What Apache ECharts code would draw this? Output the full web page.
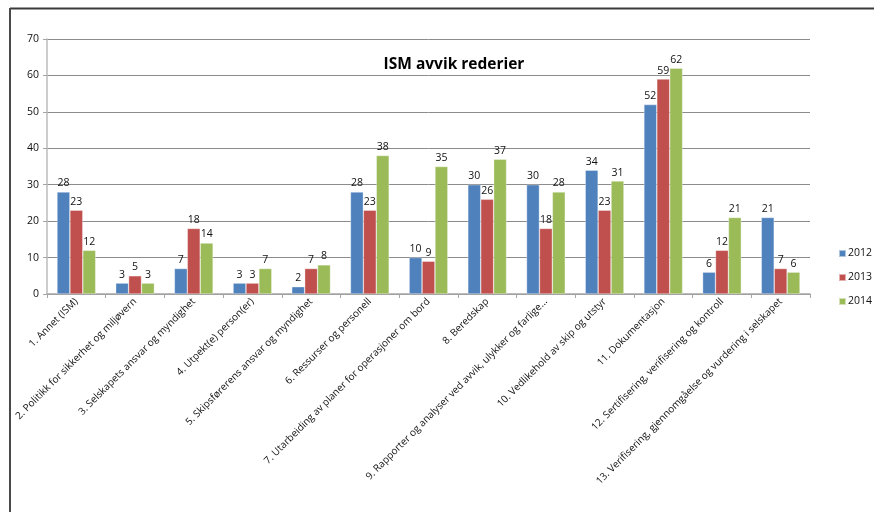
<!DOCTYPE html>
<html>
<head>
<meta charset="utf-8">
<script src="https://cdn.jsdelivr.net/npm/echarts@6/dist/echarts.min.js"></script>
<style>
  html, body { margin: 0; padding: 0; background: #fff; }
  #chart { width: 874px; height: 512px; }
</style>
</head>
<body>
<div id="chart"></div>
<script>
// Kategorier (ISM-kode kapitler)
const categories = [
  '1. Annet (ISM)',
  '2. Politikk for sikkerhet og miljøvern',
  '3. Selskapets ansvar og myndighet',
  '4. Utpekt(e) person(er)',
  '5. Skipsførerens ansvar og myndighet',
  '6. Ressurser og personell',
  '7. Utarbeiding av planer for operasjoner om bord',
  '8. Beredskap',
  '9. Rapporter og analyser ved avvik, ulykker og farlige...',
  '10. Vedlikehold av skip og utstyr',
  '11. Dokumentasjon',
  '12. Sertifisering, verifisering og kontroll',
  '13. Verifisering, gjennomgåelse og vurdering i selskapet'
];

const years = ['2012', '2013', '2014'];
const values2012 = [28, 3, 7, 3, 2, 28, 10, 30, 30, 34, 52, 6, 21];
const values2013 = [23, 5, 18, 3, 7, 23, 9, 26, 18, 23, 59, 12, 7];
const values2014 = [12, 3, 14, 7, 8, 38, 35, 37, 28, 31, 62, 21, 6];

const yTicks = { min: 0, max: 70, interval: 10 };
const colors = ['#4F81BD', '#C0504D', '#9BBB59'];
const font = '"Open Sans", "DejaVu Sans", sans-serif';

const chart = echarts.init(document.getElementById('chart'), null, { renderer: 'canvas' });

function barSeries(name, data, color) {
  return {
    name: name,
    type: 'bar',
    data: data,
    barGap: '0%',
    barCategoryGap: '34%',
    itemStyle: { color: color, borderColor: 'rgba(255,255,255,0.55)', borderWidth: 0.6 },
    label: {
      show: true,
      position: 'top',
      distance: 3,
      color: '#111',
      fontFamily: font,
      fontSize: 10.5
    }
  };
}

chart.setOption({
  animation: false,
  backgroundColor: '#fff',
  title: {
    text: 'ISM avvik rederier',
    left: 449,
    top: 52,
    textAlign: 'center',
    textStyle: { fontFamily: font, fontWeight: 'bold', fontSize: 15.5, color: '#000' }
  },
  legend: {
    orient: 'vertical',
    left: 838,
    top: 248,
    padding: 0,
    itemWidth: 7,
    itemHeight: 7,
    itemGap: 13,
    icon: 'rect',
    data: years,
    formatter: function (n) { return n; },
    textStyle: { fontFamily: font, fontSize: 10.5, color: '#111', padding: [0, 0, 0, -3] }
  },
  grid: { left: 47, right: 64, top: 39, bottom: 218, containLabel: false },
  xAxis: {
    type: 'category',
    data: categories,
    axisLine: { lineStyle: { color: '#a6a6a6', width: 1.5 } },
    axisTick: { show: true, length: 4, lineStyle: { color: '#a6a6a6' } },
    axisLabel: {
      interval: 0,
      rotate: 45,
      margin: 6,
      fontFamily: font,
      fontSize: 10,
      color: '#111'
    }
  },
  yAxis: {
    type: 'value',
    min: yTicks.min,
    max: yTicks.max,
    interval: yTicks.interval,
    axisLine: { show: true, lineStyle: { color: '#bdbdbd', width: 1.5 } },
    axisTick: { show: true, length: 4, lineStyle: { color: '#a6a6a6' } },
    axisLabel: { fontFamily: font, fontSize: 10.5, color: '#111', margin: 8 },
    splitLine: { lineStyle: { color: '#8c8c8c', width: 1 } }
  },
  graphic: [
    { type: 'line', shape: { x1: 10, y1: 8.5, x2: 874, y2: 8.5 }, style: { stroke: '#3a3a3a', lineWidth: 2 } },
    { type: 'line', shape: { x1: 10, y1: 8, x2: 10, y2: 512 }, style: { stroke: '#4a4a4a', lineWidth: 2 } }
  ],
  series: [
    barSeries(years[0], values2012, colors[0]),
    barSeries(years[1], values2013, colors[1]),
    barSeries(years[2], values2014, colors[2])
  ]
});
</script>
</body>
</html>
